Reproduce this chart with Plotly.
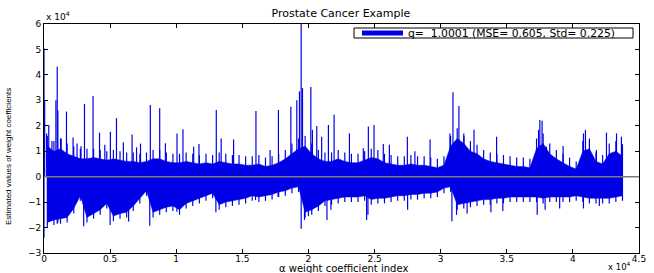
import plotly.graph_objects as go

# ---- data (values in units of 1e4, positions in units of 1e4 indices) ----
body_pos = [i * 0.05 + 0.025 for i in range(88)]  # centres of 500-index bins
body_upper = [1.2, 1.0, 1.1, 0.9, 0.8, 0.7, 0.7, 0.75, 0.7, 0.65,
              0.7, 0.65, 0.6, 0.6, 0.55, 0.6, 0.7, 0.7, 0.6, 0.55,
              0.55, 0.6, 0.55, 0.5, 0.55, 0.5, 0.6, 0.55, 0.5, 0.5,
              0.45, 0.45, 0.5, 0.4, 0.45, 0.55, 0.7, 0.9, 1.1, 1.2,
              0.9, 0.7, 0.6, 0.6, 0.7, 0.6, 0.55, 0.55, 0.65, 0.75,
              0.7, 0.55, 0.5, 0.45, 0.45, 0.5, 0.45, 0.45, 0.4, 0.35,
              0.45, 1.2, 1.5, 1.3, 1.0, 0.9, 0.7, 0.6, 0.55, 0.5,
              0.45, 0.4, 0.4, 0.35, 1.1, 1.3, 0.9, 0.7, 0.55, 0.4,
              0.3, 1.0, 1.1, 0.6, 0.5, 0.9, 1.0, 0.8]
body_upper_peak = [1.6, 1.4, 1.5, 1.3, 1.2, 1.1, 1.1, 1.1, 1.05, 1.0,
                   1.05, 1.0, 0.95, 0.95, 0.9, 0.95, 1.05, 1.05, 0.95, 0.9,
                   0.9, 0.95, 0.9, 0.85, 0.9, 0.85, 0.95, 0.9, 0.85, 0.85,
                   0.8, 0.8, 0.85, 0.75, 0.8, 0.9, 1.05, 1.3, 1.5, 1.6,
                   1.3, 1.05, 0.95, 0.95, 1.05, 0.95, 0.9, 0.9, 1.0, 1.1,
                   1.05, 0.9, 0.85, 0.8, 0.8, 0.85, 0.8, 0.8, 0.75, 0.7,
                   0.8, 1.6, 1.9, 1.7, 1.4, 1.25, 1.05, 0.95, 0.9, 0.85,
                   0.8, 0.75, 0.75, 0.7, 1.5, 1.7, 1.3, 1.05, 0.9, 0.75,
                   0.6, 1.4, 1.5, 0.95, 0.85, 1.3, 1.4, 1.2]
body_lower = [-1.8, -1.7, -1.65, -1.6, -1.25, -0.75, -1.6, -1.45, -1.3, -1.05,
              -1.55, -1.45, -1.4, -1.15, -0.85, -0.55, -1.4, -1.3, -1.2, -1.15,
              -1.3, -1.05, -0.95, -0.85, -0.75, -0.65, -1.1, -1.0, -0.95, -0.9,
              -0.85, -0.75, -0.8, -0.75, -0.7, -0.6, -0.55, -0.45, -0.4, -1.4,
              -1.3, -1.15, -0.95, -0.9, -0.85, -0.8, -0.8, -0.8, -0.75, -0.9,
              -0.85, -0.85, -0.8, -0.75, -0.75, -0.7, -0.7, -0.65, -0.65, -0.6,
              -0.45, -0.4, -1.1, -1.05, -1.0, -0.95, -0.9, -0.9, -0.85, -0.85,
              -0.8, -0.8, -0.8, -0.8, -0.8, -0.85, -0.8, -0.8, -0.8, -0.8,
              -0.75, -0.8, -0.85, -0.85, -0.85, -0.85, -0.8, -0.75]
body_lower_peak = [-2.0, -1.9, -1.85, -1.8, -1.45, -0.95, -1.8, -1.65, -1.5, -1.25,
                   -1.75, -1.65, -1.6, -1.35, -1.05, -0.75, -1.6, -1.5, -1.4, -1.35,
                   -1.5, -1.25, -1.15, -1.05, -0.95, -0.85, -1.3, -1.2, -1.15, -1.1,
                   -1.05, -0.95, -1.0, -0.95, -0.9, -0.8, -0.75, -0.65, -0.6, -1.6,
                   -1.5, -1.35, -1.15, -1.1, -1.05, -1.0, -1.0, -1.0, -0.95, -1.1,
                   -1.05, -1.05, -1.0, -0.95, -0.95, -0.9, -0.9, -0.85, -0.85, -0.8,
                   -0.65, -0.6, -1.3, -1.25, -1.2, -1.15, -1.1, -1.1, -1.05, -1.05,
                   -1.0, -1.0, -1.0, -1.0, -1.0, -1.05, -1.0, -1.0, -1.0, -1.0,
                   -0.95, -1.0, -1.05, -1.05, -1.05, -1.05, -1.0, -0.95]

spike_up_pos = [0.0, 0.005, 0.02, 0.036, 0.06, 0.09, 0.1, 0.105, 0.13, 0.17,
                0.22, 0.25, 0.28, 0.306, 0.371, 0.42, 0.46, 0.502, 0.548, 0.6,
                0.666, 0.7, 0.73, 0.804, 0.875, 0.918, 1.006, 1.051, 1.132, 1.172,
                1.303, 1.34, 1.434, 1.603, 1.71, 1.773, 1.867, 1.912, 1.932, 1.945,
                1.955, 2.018, 2.03, 2.063, 2.1, 2.151, 2.194, 2.31, 2.415, 2.453,
                2.496, 2.566, 2.612, 2.748, 2.805, 2.92, 3.07, 3.093, 3.138, 3.176,
                3.252, 3.423, 3.74, 3.75, 3.767, 3.8, 3.926, 4.08, 4.095, 4.178,
                4.254, 4.33, 4.367, 4.374]
spike_up_val = [5.05, 3.0, 1.7, 2.03, 1.4, 3.0, 4.32, 2.6, 1.5, 2.56,
                1.54, 1.3, 1.2, 2.86, 3.17, 1.73, 1.25, 1.77, 2.3, 1.35,
                1.66, 1.15, 1.3, 2.82, 2.69, 1.31, 1.7, 1.86, 1.18, 1.28,
                2.62, 1.5, 1.46, 2.58, 1.05, 2.62, 2.75, 3.0, 3.35, 6.0,
                3.48, 3.52, 1.84, 1.99, 1.57, 2.03, 2.43, 1.7, 1.12, 1.97,
                2.03, 1.28, 1.25, 1.57, 1.0, 1.46, 1.7, 3.32, 2.78, 1.6,
                1.84, 1.57, 1.84, 2.23, 2.2, 1.18, 1.21, 1.7, 1.84, 1.05,
                1.73, 1.7, 1.57, 1.28]

spike_dn_pos = [0.0, 0.1, 0.105, 0.3, 0.5, 0.64, 0.8, 1.005, 1.3, 1.6,
                1.77, 1.945, 1.97, 2.0, 2.14, 2.17, 2.44, 2.45, 2.75, 3.085,
                3.12, 3.2, 3.38, 3.47, 3.73, 3.79, 3.9, 4.08, 4.2]
spike_dn_val = [-2.4, -1.85, -1.8, -1.95, -1.9, -1.76, -1.93, -1.38, -1.4, -0.92,
                -0.8, -2.05, -1.7, -1.55, -1.7, -1.3, -1.7, -1.5, -1.3, -1.75,
                -1.5, -1.45, -1.4, -1.35, -1.5, -1.3, -1.25, -1.25, -1.15]

x_tick_vals = [0, 0.5, 1, 1.5, 2, 2.5, 3, 3.5, 4, 4.5]
x_tick_text = ["0", "0.5", "1", "1.5", "2", "2.5", "3", "3.5", "4", "4.5"]
y_tick_vals = [-3, -2, -1, 0, 1, 2, 3, 4, 5, 6]
y_tick_text = ["\u22123", "\u22122", "\u22121", "0", "1", "2", "3", "4", "5", "6"]

legend_label = "q=  1.0001 (MSE= 0.605, Std= 0.225)"
SCALE = 1e4
BLUE = "#0000e6"
FONT = "DejaVu Sans, Liberation Sans, Arial, sans-serif"

fig = go.Figure()
bx = [p * SCALE for p in body_pos]
# dense body of coefficients (solid part)
fig.add_trace(go.Scatter(x=bx, y=[v * SCALE for v in body_upper], mode="lines", fill="tozeroy",
                         fillcolor=BLUE, line=dict(color=BLUE, width=0.5), showlegend=False))
fig.add_trace(go.Scatter(x=bx, y=[v * SCALE for v in body_lower], mode="lines", fill="tozeroy",
                         fillcolor=BLUE, line=dict(color=BLUE, width=0.5), showlegend=False))
# local maxima inside the dense body
fig.add_trace(go.Bar(x=bx, y=[v * SCALE for v in body_upper_peak], width=90,
                     marker=dict(color=BLUE, line=dict(width=0)), showlegend=False))
fig.add_trace(go.Bar(x=bx, y=[v * SCALE for v in body_lower_peak], width=90,
                     marker=dict(color=BLUE, line=dict(width=0)), showlegend=False))
# isolated large coefficients
fig.add_trace(go.Bar(x=[p * SCALE for p in spike_up_pos], y=[v * SCALE for v in spike_up_val],
                     width=90, marker=dict(color=BLUE, line=dict(width=0)), showlegend=False))
fig.add_trace(go.Bar(x=[p * SCALE for p in spike_dn_pos], y=[v * SCALE for v in spike_dn_val],
                     width=90, marker=dict(color=BLUE, line=dict(width=0)), showlegend=False))

tick_font = dict(family=FONT, size=9, color="black")

# plot area: x 44..639, y 24..253 (px)
L, R, T, B, W, H = 44, 15, 24, 20, 654, 273
PW, PH = W - L - R, H - T - B


def px_x(px):
    return (px - L) / PW


def px_y(py):
    return (H - B - py) / PH


fig.update_layout(
    width=W, height=H,
    margin=dict(l=L, r=R, t=T, b=B),
    paper_bgcolor="white", plot_bgcolor="white",
    barmode="overlay",
    showlegend=False,
    hovermode=False,
    title=dict(text="Prostate Cancer Example", x=341 / W, xanchor="center", y=1 - 13 / H, yanchor="middle",
               font=dict(family=FONT, size=11, color="black")),
    xaxis=dict(range=[0, 4.5 * SCALE], tickvals=[v * SCALE for v in x_tick_vals], ticktext=x_tick_text,
               ticks="inside", ticklen=4, tickcolor="black", showline=True, linecolor="black",
               linewidth=1, mirror="ticks", showgrid=False, zeroline=False, tickfont=tick_font,
               ticklabelstandoff=-3, automargin=False),
    yaxis=dict(range=[-3 * SCALE, 6 * SCALE], tickvals=[v * SCALE for v in y_tick_vals], ticktext=y_tick_text,
               ticks="inside", ticklen=4, tickcolor="black", showline=True, linecolor="black",
               linewidth=1, mirror="ticks", showgrid=False, zeroline=False, tickfont=tick_font,
               automargin=False),
    shapes=[
        dict(type="line", xref="paper", yref="y", x0=0, x1=1, y0=0, y1=0,
             line=dict(color="#7a7a7a", width=1.5), layer="above"),
        # legend box
        dict(type="rect", xref="paper", yref="paper", x0=px_x(354), x1=px_x(633), y0=px_y(38), y1=px_y(28),
             line=dict(color="black", width=1), fillcolor="white", layer="above"),
        dict(type="rect", xref="paper", yref="paper", x0=px_x(362), x1=px_x(403), y0=px_y(35.5), y1=px_y(30.5),
             line=dict(width=0), fillcolor=BLUE, layer="above"),
    ],
    annotations=[
        dict(text=legend_label, xref="paper", yref="paper", x=px_x(406), y=px_y(33), xanchor="left",
             yanchor="middle", showarrow=False, font=dict(family=FONT, size=10.8, color="black")),
        dict(text="\u03b1 weight coefficient index", xref="paper", yref="paper", x=px_x(343), y=px_y(268),
             xanchor="center", yanchor="middle", showarrow=False, font=dict(family=FONT, size=10, color="black")),
        dict(text="Estimated values of weight coefficients", xref="paper", yref="paper", x=px_x(8), y=px_y(157),
             xanchor="center", yanchor="middle", textangle=-90, showarrow=False,
             font=dict(family="Liberation Sans Narrow, Arial Narrow, sans-serif", size=8, color="black")),
        dict(text="x 10<sup>4</sup>", xref="paper", yref="paper", x=0.0, y=1.0, xanchor="left",
             yanchor="bottom", showarrow=False, font=tick_font),
        dict(text="x 10<sup>4</sup>", xref="paper", yref="paper", x=px_x(632), y=px_y(273), xanchor="right",
             yanchor="bottom", showarrow=False, borderpad=0, font=dict(family=FONT, size=8.5, color="black")),
    ],
)

fig.write_html("out.html", config={"displayModeBar": False, "staticPlot": True},
               post_script="document.body.style.margin='0';document.body.style.padding='0';")
